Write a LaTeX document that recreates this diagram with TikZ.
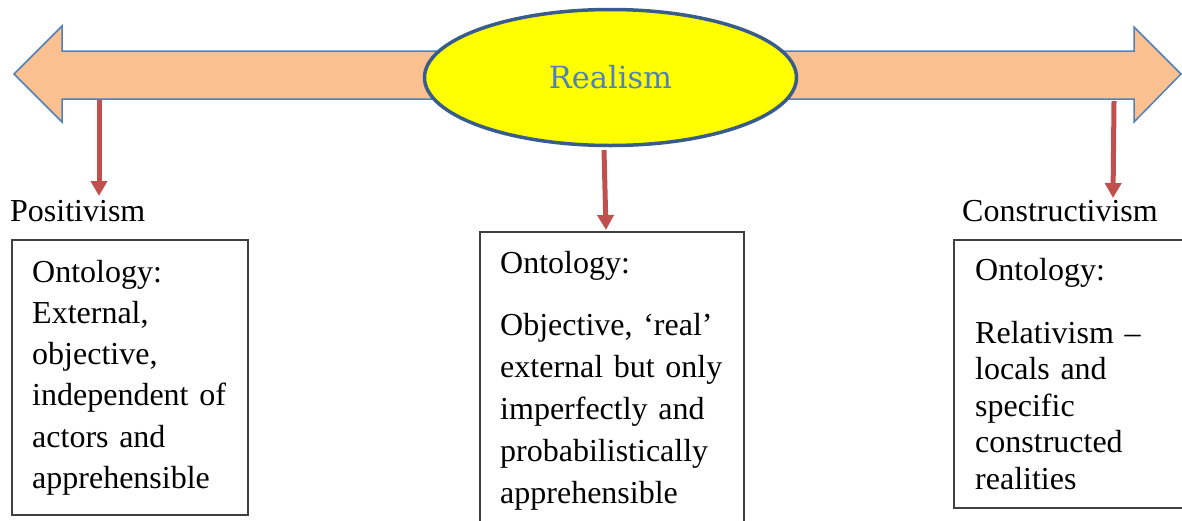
\documentclass[tikz,border=0pt]{standalone}
\usepackage{fontspec}
\setmainfont{Liberation Serif}
\newfontfamily\realfont{DejaVu Serif}
\usetikzlibrary{shapes.geometric,arrows.meta}

\definecolor{peach}{RGB}{250,192,143}
\definecolor{edgeblue}{RGB}{79,129,189}
\definecolor{darkblue}{RGB}{56,93,138}
\definecolor{redline}{RGB}{192,80,77}
\definecolor{boxline}{RGB}{64,64,64}
\definecolor{brightyellow}{RGB}{255,255,0}

\tikzset{
  pointer/.style={draw=redline, line width=5pt,
    -{Triangle[width=16pt,length=15pt]}},
  label/.style={anchor=base west, inner sep=0pt,
    font=\fontsize{32pt}{40pt}\selectfont},
  infobox/.style={draw=boxline, line width=1.3pt, rectangle, inner sep=0pt},
  boxtext/.style={anchor=base west, inner sep=0pt, align=left,
    text width=300pt},
}

\begin{document}
\begin{tikzpicture}[x=1pt,y=-1pt]
  \useasboundingbox (0,0) rectangle (1182,520);

  % two-headed scale arrow
  \draw[fill=peach, draw=edgeblue, line width=1.5pt, line join=miter]
    (14,74) -- (62,26) -- (62,51) -- (1134,51) -- (1134,27) -- (1181,74)
    -- (1134,122) -- (1134,99) -- (62,99) -- (62,122) -- cycle;

  % centre of the scale
  \node[ellipse, fill=brightyellow, draw=darkblue, line width=3.5pt,
        minimum width=372pt, minimum height=136pt, inner sep=0pt,
        text=edgeblue, font=\realfont\fontsize{30.5pt}{36pt}\selectfont]
    (realism) at (610.5,77.5) {Realism};

  % paradigm labels
  \node[label] (positivism) at (10,221) {Positivism};
  \node[label] (constructivism) at (962,221) {Constructivism};

  % ontology boxes
  \node[infobox, minimum width=236pt, minimum height=275pt]
    (leftbox) at (130,377.5) {};
  \node[infobox, minimum width=264pt, minimum height=293pt]
    (midbox) at (612,378.5) {};
  \node[infobox, minimum width=232pt, minimum height=268pt]
    (rightbox) at (1070,374) {};

  \node[boxtext, font=\fontsize{32pt}{41.3pt}\selectfont]
    (lefttext) at (32,282)
    {Ontology:\\External,\\objective,\\independent of\\actors and\\apprehensible};
  \node[boxtext, font=\fontsize{32pt}{42pt}\selectfont]
    (midtext) at (500,273)
    {Ontology:\\[20pt]Objective, ‘real’\\external but only\\imperfectly and\\probabilistically\\apprehensible};
  \node[boxtext, font=\fontsize{32pt}{36.5pt}\selectfont]
    (righttext) at (975,280)
    {Ontology:\\[26.5pt]Relativism –\\locals and\\specific\\constructed\\realities};

  % pointers from the scale down to each paradigm
  \coordinate (lfrom) at (99,100);
  \coordinate (lto) at (99,196);
  \coordinate (mfrom) at (604,150);
  \coordinate (mto) at (606,230);
  \coordinate (rfrom) at (1114,101);
  \coordinate (rto) at (1113,198);
  \draw[pointer] (lfrom) -- (lto);
  \draw[pointer] (mfrom) -- (mto);
  \draw[pointer] (rfrom) -- (rto);
\end{tikzpicture}
\end{document}
